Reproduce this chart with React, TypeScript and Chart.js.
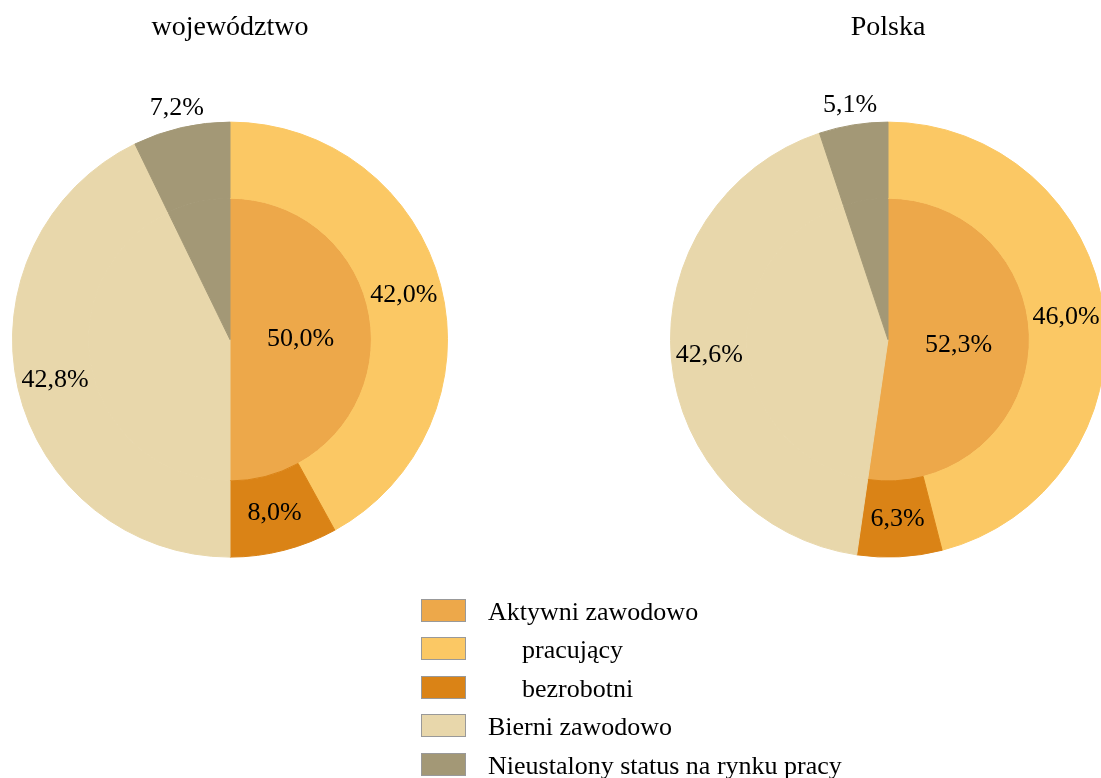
import React, { useEffect, useRef } from "react";
import { Chart, registerables } from "chart.js";

Chart.register(...registerables);

const FONT = "'Liberation Serif', 'Times New Roman', Times, serif";

// ---- data ----
const titles = ["województwo", "Polska"];
const outerLabels = ["pracujący", "bezrobotni", "Bierni zawodowo", "Nieustalony status na rynku pracy"];
const innerLabels = ["Aktywni zawodowo", "Bierni zawodowo", "Nieustalony status na rynku pracy"];
const wojOuter = [42.0, 8.0, 42.8, 7.2];
const wojInner = [50.0, 42.8, 7.2];
const polOuter = [46.0, 6.3, 42.6, 5.1];
const polInner = [52.3, 42.6, 5.1];
const outerColors = ["#FBC864", "#DA8316", "#E8D7AB", "#A39876"];
const innerColors = ["#EDA84A", "#E8D7AB", "#A39876"];
const outerShowLabel = [true, true, true, true];
const outerLabelOutside = [false, false, false, true];
const innerShowLabel = [true, false, false];
const legendNames = ["Aktywni zawodowo", "pracujący", "bezrobotni", "Bierni zawodowo", "Nieustalony status na rynku pracy"];
const legendColors = ["#EDA84A", "#FBC864", "#DA8316", "#E8D7AB", "#A39876"];
const legendIndent = [false, true, true, false, false];

const fmt = (v: number) => v.toFixed(1).replace(".", ",") + "%";

const sliceLabels = {
  id: "sliceLabels",
  afterDatasetsDraw(chart: any, _args: any, opts: any) {
    const ctx = chart.ctx;
    ctx.save();
    ctx.font = `26px ${FONT}`;
    ctx.fillStyle = "#000";
    ctx.textAlign = "center";
    ctx.textBaseline = "middle";
    chart.data.datasets.forEach((ds: any, di: number) => {
      const meta = chart.getDatasetMeta(di);
      const show = opts.show[di];
      const outside = opts.outside[di];
      meta.data.forEach((arc: any, i: number) => {
        if (!show[i]) return;
        const p = arc.getProps(["x", "y", "startAngle", "endAngle", "innerRadius", "outerRadius"], true);
        const mid = (p.startAngle + p.endAngle) / 2;
        const r = outside[i] ? p.outerRadius + 20 : (p.innerRadius + p.outerRadius) / 2;
        ctx.fillText(fmt(ds.data[i]), p.x + Math.cos(mid) * r, p.y + Math.sin(mid) * r);
      });
    });
    ctx.restore();
  },
};

function PieChart(props: { left: number; title: string; outer: number[]; inner: number[] }) {
  const ref = useRef<HTMLCanvasElement | null>(null);
  useEffect(() => {
    if (!ref.current) return;
    const chart = new Chart(ref.current, {
      type: "pie",
      data: {
        labels: outerLabels,
        datasets: [
          {
            label: "outer",
            data: props.outer,
            backgroundColor: outerColors,
            borderColor: outerColors,
            borderWidth: 1,
            hoverBorderWidth: 1,
            hoverOffset: 0,
            offset: 0,
            weight: 0.35,
          } as any,
          {
            label: "inner",
            data: props.inner,
            backgroundColor: innerColors,
            borderColor: innerColors,
            borderWidth: 1,
            hoverBorderWidth: 1,
            hoverOffset: 0,
            offset: 0,
            weight: 0.65,
          } as any,
        ],
      },
      options: {
        responsive: false,
        animation: false,
        events: [],
        layout: { padding: { left: 12, right: 12, top: 0, bottom: 42.4 } },
        plugins: {
          legend: { display: false },
          tooltip: { enabled: false },
          title: {
            display: true,
            text: props.title,
            color: "#000",
            font: { family: FONT, size: 28, weight: "normal", lineHeight: 1.2 },
            padding: { top: 11, bottom: 77 },
          },
          sliceLabels: {
            show: [outerShowLabel, innerShowLabel],
            outside: [outerLabelOutside, [false, false, false]],
          },
        } as any,
      },
      plugins: [sliceLabels as any],
    });
    return () => chart.destroy();
  }, []);
  return (
    <canvas
      ref={ref}
      width={460}
      height={600}
      style={{ position: "absolute", left: props.left, top: 0, width: 460, height: 600 }}
    />
  );
}

function Legend() {
  return (
    <>
      {legendNames.map((name, i) => {
        const top = 599 + i * 38.4;
        return (
          <React.Fragment key={name}>
            <div
              style={{
                position: "absolute",
                left: 421,
                top,
                width: 45,
                height: 23,
                boxSizing: "border-box",
                border: "1px solid #999",
                background: legendColors[i],
              }}
            />
            <div
              style={{
                position: "absolute",
                left: legendIndent[i] ? 522 : 488,
                top,
                fontSize: 26,
                lineHeight: "26px",
                fontFamily: FONT,
                color: "#000",
                whiteSpace: "nowrap",
              }}
            >
              {name}
            </div>
          </React.Fragment>
        );
      })}
    </>
  );
}

export default function App() {
  useEffect(() => {
    document.body.style.margin = "0";
  }, []);
  return (
    <div
      style={{
        position: "fixed",
        left: 0,
        top: 0,
        width: 1101,
        height: 778,
        overflow: "hidden",
        background: "#fff",
      }}
    >
      <PieChart left={0} title={titles[0]} outer={wojOuter} inner={wojInner} />
      <PieChart left={658} title={titles[1]} outer={polOuter} inner={polInner} />
      <Legend />
    </div>
  );
}
